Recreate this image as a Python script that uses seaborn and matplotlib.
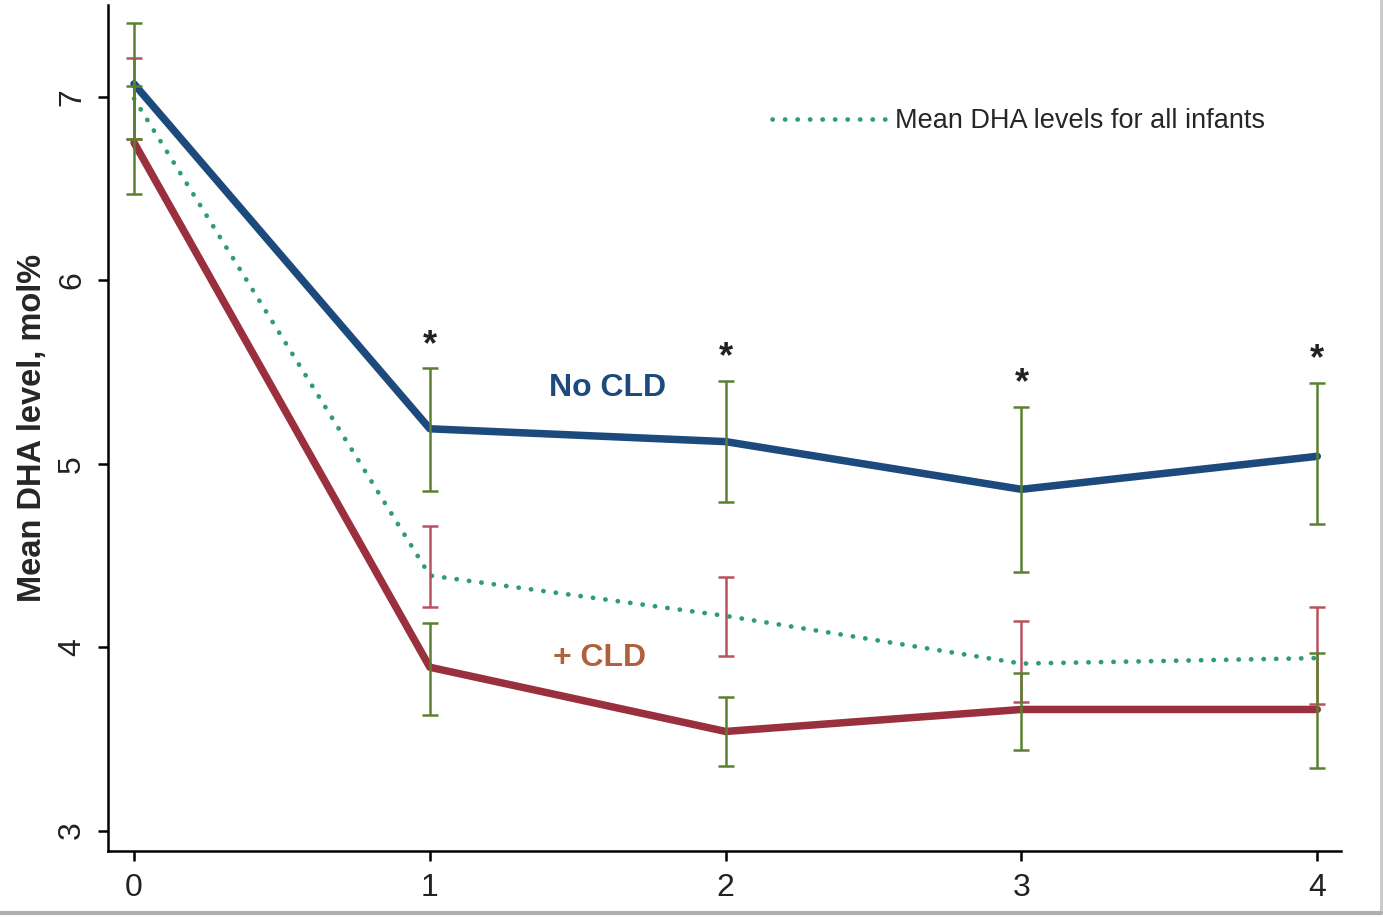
import pandas as pd
import numpy as np
import matplotlib
matplotlib.use("Agg")
import matplotlib.pyplot as plt
from matplotlib.lines import Line2D
import seaborn as sns

# weeks after birth
weeks = [0, 1, 2, 3, 4]

# infants without CLD
no_cld_mean = [7.07, 5.19, 5.12, 4.86, 5.04]
no_cld_hi = [7.40, 5.52, 5.45, 5.31, 5.44]
no_cld_lo = [6.77, 4.85, 4.79, 4.41, 4.67]

# infants with CLD
cld_mean = [6.75, 3.89, 3.54, 3.66, 3.66]
cld_hi = [7.06, 4.13, 3.73, 3.86, 3.97]
cld_lo = [6.47, 3.63, 3.35, 3.44, 3.34]

# all infants
all_mean = [6.99, 4.39, 4.17, 3.91, 3.94]
all_hi = [7.21, 4.66, 4.38, 4.14, 4.22]
all_lo = [6.77, 4.22, 3.95, 3.70, 3.69]

star_weeks = [1, 2, 3, 4]

df = pd.DataFrame({
    "week": weeks * 3,
    "dha": no_cld_mean + cld_mean + all_mean,
    "group": ["No CLD"] * 5 + ["+ CLD"] * 5 + ["all"] * 5,
})

sns.set_theme(style="ticks")
plt.rcParams["font.family"] = ["Liberation Sans", "DejaVu Sans"]

fig = plt.figure(figsize=(13.83, 9.17), dpi=100)
ax = fig.add_axes([0.0781, 0.0723, 0.8915, 0.9222])

blue = "#1c4a7c"
red = "#9a2f3e"
green_bar = "#5b8031"
red_bar = "#b8525f"
dot_green = "#2f9e6c"

sns.lineplot(data=df[df.group == "No CLD"], x="week", y="dha", color=blue,
             linewidth=5.4, ax=ax, legend=False)
sns.lineplot(data=df[df.group == "+ CLD"], x="week", y="dha", color=red,
             linewidth=5.4, ax=ax, legend=False)
sns.lineplot(data=df[df.group == "all"], x="week", y="dha", color=dot_green,
             linewidth=3.4, linestyle=(0, (0.05, 2.6)), dash_capstyle="round",
             ax=ax, label="Mean DHA levels for all infants")

def bars(mean, lo, hi, color):
    mean = np.array(mean)
    err = [mean - np.array(lo), np.array(hi) - mean]
    ax.errorbar(weeks, mean, yerr=err, fmt="none", ecolor=color,
                elinewidth=1.8, capsize=6, capthick=1.8, zorder=5)

bars(all_mean, all_lo, all_hi, red_bar)
bars(no_cld_mean, no_cld_lo, no_cld_hi, green_bar)
bars(cld_mean, cld_lo, cld_hi, green_bar)

for w in star_weeks:
    ax.annotate("*", (w, no_cld_hi[w]), xytext=(0, 4), textcoords="offset points",
                ha="center", va="bottom", fontsize=26, fontweight="bold", color="#222222")

ax.text(1.6, 5.41, "No CLD", color=blue, fontsize=23, fontweight="bold",
        ha="center", va="center")
ax.text(1.575, 3.94, "+ CLD", color="#b0603a", fontsize=23, fontweight="bold",
        ha="center", va="center")

ax.set_xlim(-0.088, 4.08)
ax.set_ylim(2.89, 7.5)
ax.set_xticks(weeks)
ax.set_yticks([3, 4, 5, 6, 7])
ax.set_xlabel("")
ax.set_ylabel("Mean DHA level, mol%", fontsize=23.5, fontweight="bold")
ax.tick_params(axis="both", labelsize=23, length=7, width=1.8, color="black",
               labelcolor="#222222")
ax.tick_params(axis="x", pad=9)
ax.tick_params(axis="y", pad=8)
for lab in ax.get_yticklabels():
    lab.set_rotation(90)
    lab.set_va("center")
for s in ["left", "bottom"]:
    ax.spines[s].set_linewidth(1.8)
    ax.spines[s].set_color("black")
sns.despine(ax=ax)

ax.legend(loc="center left", bbox_to_anchor=(772 / 1383, 1 - 121 / 917),
          bbox_transform=fig.transFigure, frameon=False, fontsize=19.5,
          handlelength=4.3, handletextpad=0.25, borderpad=0, borderaxespad=0)

ax.yaxis.set_label_coords(-0.049, 0.5)

# grey screenshot frame on the right and bottom
fig.add_artist(Line2D([0.9985, 0.9985], [0.004, 1], transform=fig.transFigure,
                      color="#c8c8c8", lw=2))
fig.add_artist(Line2D([0, 0.9985], [0.004, 0.004], transform=fig.transFigure,
                      color="#b0b0b0", lw=3))

plt.savefig("out.png", dpi=100)
plt.close()
